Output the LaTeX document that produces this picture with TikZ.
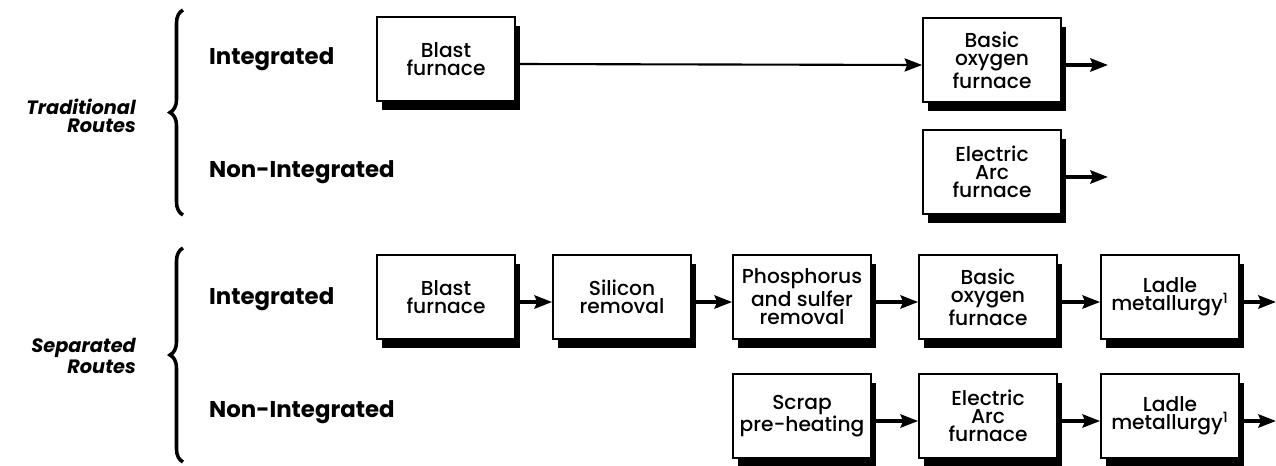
\documentclass[tikz,border=0pt]{standalone}
\usepackage{fontspec}
\setmainfont{Poppins}
\newfontfamily\stagefont{Poppins}[UprightFont=* Medium]
\usepackage{tikz}
\usetikzlibrary{decorations.pathreplacing,arrows.meta,shadows}

\tikzset{
	stage/.style={draw, line width=1pt, fill=white, align=center, minimum width=2.76cm, minimum height=1.68cm, inner sep=1pt, font=\stagefont\fontsize{11.5}{10.4}\selectfont, general shadow={fill=black, shadow xshift=0.1cm, shadow yshift=-0.18cm}},
	flow/.style={line width=2pt, -{Stealth[length=10pt,width=7.5pt,inset=1.5pt]}},
	route/.style={font=\fontsize{13}{14}\selectfont\bfseries, anchor=west},
	family/.style={font=\fontsize{11}{10}\selectfont\bfseries\itshape, align=right, anchor=east},
	curly/.style={decorate, decoration={brace, amplitude=0.26cm}, line width=2pt}
}

\begin{document}
\begin{tikzpicture}[x=0.02cm,y=-0.02cm]
	\useasboundingbox (0,0) rectangle (1276,466);
	\node[family] (trad) at (142,116) {Traditional\\Routes};
	\node[family] (sep) at (142,356) {Separated\\Routes};
	\draw[curly] (183,215) -- (183,10);
	\draw[curly] (183,462) -- (183,248);
	\node[route] (tInt) at (203,59) {Integrated};
	\node[route] (tNon) at (203,172) {Non-Integrated};
	\node[route] (sInt) at (203,299) {Integrated};
	\node[route] (sNon) at (203,412) {Non-Integrated};

	\node[stage] (tBF) at (446,59) {Blast\\furnace};
	\node[stage] (tBOF) at (992,60) {Basic\\oxygen\\furnace};
	\node[stage] (tEAF) at (992,172) {Electric\\Arc\\furnace};

	\node[stage] (sBF) at (446,297) {Blast\\furnace};
	\node[stage] (sSi) at (622,297) {Silicon\\removal};
	\node[stage] (sPS) at (802,297) {Phosphorus\\and sulfer\\removal};
	\node[stage] (sBOF) at (988,297) {Basic\\oxygen\\furnace};
	\node[stage] (sLM) at (1170,297) {Ladle\\metallurgy\textsuperscript{1}};
	\node[stage] (sSP) at (802,416) {Scrap\\pre-heating};
	\node[stage] (sEAF) at (988,416) {Electric\\Arc\\furnace};
	\node[stage] (sLM2) at (1170,416) {Ladle\\metallurgy\textsuperscript{1}};

	\coordinate (tOut) at (1108,65);
	\coordinate (tOut2) at (1108,177);
	\coordinate (sOut) at (1276,302);
	\coordinate (sOut2) at (1276,421);

	\draw[flow, line width=1.2pt] ([yshift=-0.1cm]tBF.east) -- ([yshift=-0.1cm]tBOF.west);
	\foreach \a/\b in {sBF/sSi, sSi/sPS, sPS/sBOF, sBOF/sLM, sSP/sEAF, sEAF/sLM2}
		\draw[flow] ([yshift=-0.1cm]\a.east) -- ([yshift=-0.1cm]\b.west);
	\foreach \a/\b in {tBOF/tOut, tEAF/tOut2, sLM/sOut, sLM2/sOut2}
		\draw[flow] ([yshift=-0.1cm]\a.east) -- (\b);
\end{tikzpicture}
\end{document}
